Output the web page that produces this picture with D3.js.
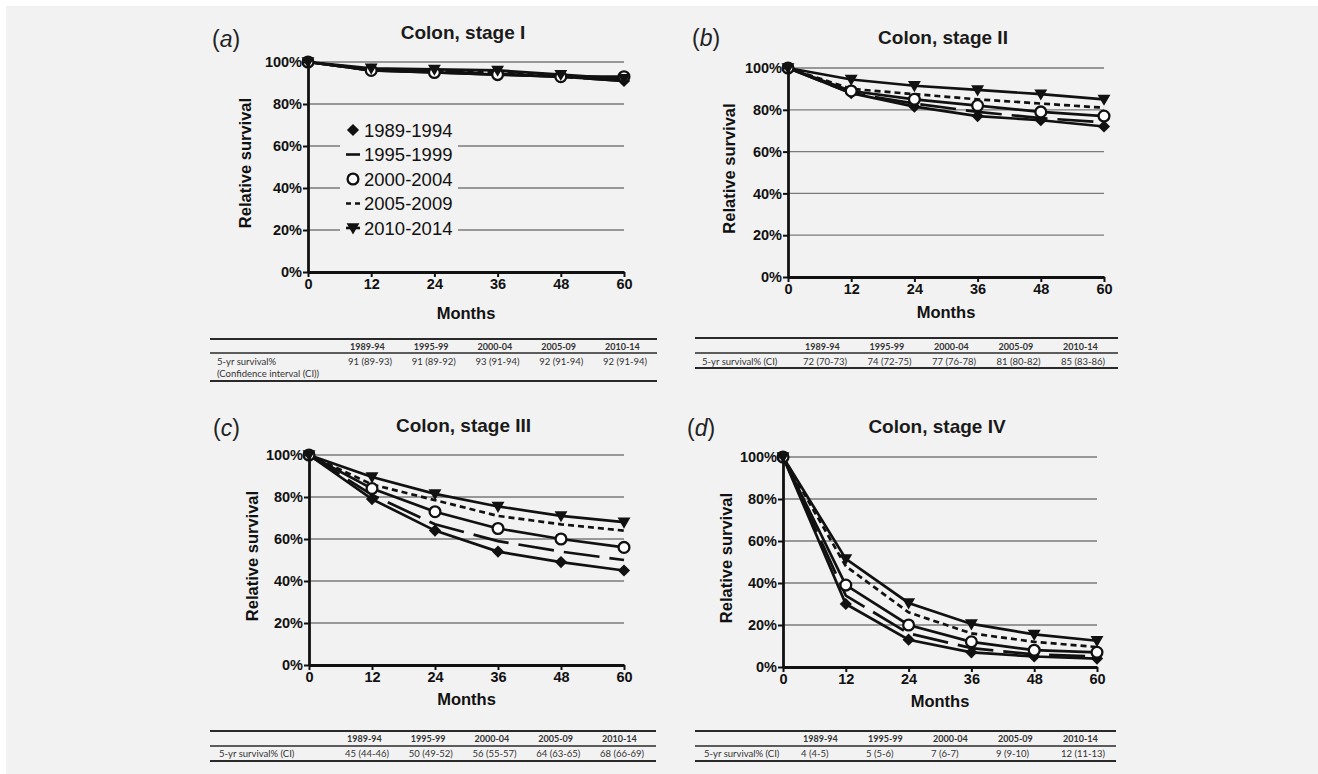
<!DOCTYPE html>
<html>
<head>
<meta charset="utf-8">
<script src="https://cdn.jsdelivr.net/npm/d3@7"></script>
<style>
  body { margin: 0; background: #fff; }
  text { font-family: "Liberation Sans", Arial, sans-serif; }
  .tbl text { font-family: Lato, "Open Sans", sans-serif; fill: #333; }
</style>
</head>
<body>
<div class="svg-content"></div>
<script>
// data
const months = [0, 12, 24, 36, 48, 60];
const yTicks = [0, 20, 40, 60, 80, 100];
const periods = ["1989-1994", "1995-1999", "2000-2004", "2005-2009", "2010-2014"];
const tableHeads = ["1989-94", "1995-99", "2000-04", "2005-09", "2010-14"];

const stageI = [
  [100, 96, 95, 94, 93, 91],
  [100, 96, 95.5, 94.5, 93, 91],
  [100, 96, 95, 94, 93, 93],
  [100, 96.5, 96, 95, 93.5, 92],
  [100, 97, 96.5, 96, 94, 92]
];
const stageII = [
  [100, 88, 81.5, 77, 75, 72],
  [100, 88, 83, 79, 76, 74],
  [100, 89, 85, 82, 79, 77],
  [100, 90, 87.5, 85, 83, 81],
  [100, 94.5, 91.5, 89.5, 87.5, 85]
];
const stageIII = [
  [100, 79, 64, 54, 49, 45],
  [100, 81, 67, 59, 54, 50],
  [100, 84, 73, 65, 60, 56],
  [100, 86, 78.5, 71, 67, 64],
  [100, 89.5, 81.5, 75.5, 71, 68]
];
const stageIV = [
  [100, 30, 13, 7, 5, 4],
  [100, 34, 16, 9, 6, 5],
  [100, 39, 20, 12, 8, 7],
  [100, 48, 26, 16, 12, 9.5],
  [100, 51.5, 30.5, 20.5, 15.5, 12.5]
];

const tableI = ["91 (89-93)", "91 (89-92)", "93 (91-94)", "92 (91-94)", "92 (91-94)"];
const tableII = ["72 (70-73)", "74 (72-75)", "77 (76-78)", "81 (80-82)", "85 (83-86)"];
const tableIII = ["45 (44-46)", "50 (49-52)", "56 (55-57)", "64 (63-65)", "68 (66-69)"];
const tableIV = ["4 (4-5)", "5 (5-6)", "7 (6-7)", "9 (9-10)", "12 (11-13)"];

// layout
const panels = [
  { tag: "a", title: "Colon, stage I", data: stageI, x0: 308, x1: 624, yTop: 62, yBot: 272,
    tagY: 47, titleY: 39, monthsY: 319, ylabX: 251,
    table: { rows: tableI, left: 210, right: 657, cols: [350, 605], top: 339, mid: 353, bot: 381,
             headY: 349.5, rowY: 364.5, labX: 217, label: ["5-yr survival%", "(Confidence interval (CI))"] } },
  { tag: "b", title: "Colon, stage II", data: stageII, x0: 788, x1: 1104, yTop: 68, yBot: 277,
    tagY: 46, titleY: 44, monthsY: 318, ylabX: 735,
    table: { rows: tableII, left: 695, right: 1118, cols: [805, 1063], top: 338, mid: 353, bot: 368,
             headY: 350, rowY: 365, labX: 702, label: ["5-yr survival% (CI)"] } },
  { tag: "c", title: "Colon, stage III", data: stageIII, x0: 309, x1: 624, yTop: 455, yBot: 665,
    tagY: 436, titleY: 432, monthsY: 705, ylabX: 258,
    table: { rows: tableIII, left: 210, right: 656, cols: [347, 602], top: 731, mid: 746, bot: 761,
             headY: 742, rowY: 757, labX: 219, label: ["5-yr survival% (CI)"] } },
  { tag: "d", title: "Colon, stage IV", data: stageIV, x0: 783, x1: 1097, yTop: 457, yBot: 667,
    tagY: 436, titleY: 433, monthsY: 707, ylabX: 732,
    table: { rows: tableIV, left: 695, right: 1116, cols: [803, 1063], top: 731, mid: 746, bot: 761,
             headY: 742, rowY: 757, labX: 704, label: ["5-yr survival% (CI)"] } }
];

const dashes = [null, "36,10", null, "6,4", null];
const ink = "#111";

const svgWidth = 1318;
const svgHeight = 774;

let svg = d3.select(".svg-content")
            .append("svg")
            .attr("width", svgWidth)
            .attr("height", svgHeight);

svg.append("rect")
   .attr("x", 6).attr("y", 6)
   .attr("width", svgWidth - 6).attr("height", svgHeight - 6)
   .attr("fill", "#f2f2f2");

const diamond = d3.symbol(d3.symbolDiamond2, 95)();
const triangle = d3.symbol(d3.symbolTriangle, 72)();

function marker(g, type, x, y) {
  if (type === 0) {
    g.append("path").attr("d", diamond).attr("fill", ink)
     .attr("transform", "translate(" + x + "," + y + ")");
  } else if (type === 2) {
    g.append("circle").attr("cx", x).attr("cy", y).attr("r", 5.4)
     .attr("fill", "#fff").attr("stroke", ink).attr("stroke-width", 2.3);
  } else if (type === 4) {
    g.append("path").attr("d", triangle).attr("fill", ink)
     .attr("transform", "translate(" + x + "," + (y - 1) + ") rotate(180)");
  }
}

panels.forEach(p => {
  const g = svg.append("g");

  const xScale = d3.scaleLinear().domain([0, 60]).range([p.x0, p.x1]);
  const yScale = d3.scaleLinear().domain([0, 100]).range([p.yBot, p.yTop]);
  const mid = (p.x0 + p.x1) / 2;

  // gridlines
  g.selectAll(".grid")
   .data(yTicks.filter(d => d > 0))
   .enter()
   .append("line")
   .attr("x1", p.x0).attr("x2", p.x1)
   .attr("y1", d => yScale(d)).attr("y2", d => yScale(d))
   .attr("stroke", "#7a7a7a")
   .attr("stroke-width", 1.3);

  // legend only in panel a
  if (p.tag === "a") {
    const lg = g.append("g");
    lg.append("rect")
      .attr("x", 340).attr("y", 116).attr("width", 118).attr("height", 124)
      .attr("fill", "#f2f2f2");
    const ly = d3.scalePoint().domain(periods).range([130, 228]);
    periods.forEach((name, i) => {
      const cy = ly(name);
      if (i === 0 || i === 2) {
        marker(lg, i, 353, cy);
      } else {
        lg.append("line")
          .attr("x1", 346).attr("x2", 360).attr("y1", cy).attr("y2", cy)
          .attr("stroke", ink).attr("stroke-width", 2.6)
          .attr("stroke-dasharray", i === 3 ? "5,4" : null);
        if (i === 4) marker(lg, 4, 353, cy);
      }
      lg.append("text")
        .attr("x", 364).attr("y", cy + 6.5)
        .attr("font-size", 18.5)
        .attr("fill", ink)
        .text(name);
    });
  }

  const line = d3.line()
                 .x((d, i) => xScale(months[i]))
                 .y(d => yScale(d));

  p.data.forEach((series, i) => {
    g.append("path")
     .attr("d", line(series))
     .attr("fill", "none")
     .attr("stroke", ink)
     .attr("stroke-width", 2.7)
     .attr("stroke-dasharray", dashes[i]);
  });

  p.data.forEach((series, i) => {
    series.forEach((v, j) => marker(g, i, xScale(months[j]), yScale(v)));
  });

  // axes
  const xAxis = d3.axisBottom(xScale).tickValues(months).tickSize(5).tickSizeOuter(0).tickPadding(2);
  const yAxis = d3.axisLeft(yScale).tickValues(yTicks).tickSize(5).tickSizeOuter(0).tickPadding(1)
                  .tickFormat(d => d + "%");

  const ax = g.append("g")
              .attr("transform", "translate(0," + p.yBot + ")")
              .call(xAxis);
  const ay = g.append("g")
              .attr("transform", "translate(" + p.x0 + ",0)")
              .call(yAxis);

  [ax, ay].forEach(a => {
    a.select(".domain").attr("stroke", ink).attr("stroke-width", 2.8);
    a.selectAll(".tick line").attr("stroke", ink).attr("stroke-width", 2);
    a.selectAll(".tick text")
     .attr("fill", ink)
     .attr("font-size", 14.5)
     .attr("font-weight", "bold")
     .attr("font-family", "'Liberation Sans', Arial, sans-serif");
  });

  // labels
  g.append("text")
   .attr("x", mid - 3).attr("y", p.titleY)
   .attr("text-anchor", "middle")
   .attr("font-size", 19)
   .attr("font-weight", "bold")
   .attr("fill", "#1a1a1a")
   .text(p.title);

  const tag = g.append("text")
               .attr("x", p.x0 - 96).attr("y", p.tagY)
               .attr("font-size", 23)
               .attr("fill", "#222");
  tag.append("tspan").text("(");
  tag.append("tspan").attr("font-style", "italic").text(p.tag);
  tag.append("tspan").text(")");

  g.append("text")
   .attr("x", mid).attr("y", p.monthsY)
   .attr("text-anchor", "middle")
   .attr("font-size", 16.5)
   .attr("font-weight", "bold")
   .attr("fill", ink)
   .text("Months");

  g.append("text")
   .attr("transform", "translate(" + p.ylabX + "," + ((p.yTop + p.yBot) / 2 - 4) + ") rotate(-90)")
   .attr("text-anchor", "middle")
   .attr("font-size", 16.5)
   .attr("font-weight", "bold")
   .attr("fill", ink)
   .text("Relative survival");

  // survival table under the panel
  const t = p.table;
  const tg = g.append("g").attr("class", "tbl");
  const colScale = d3.scalePoint().domain(tableHeads).range(t.cols);

  [[t.top, 2], [t.mid, 1.6], [t.bot, 2]].forEach(([yy, w]) => {
    tg.append("line")
      .attr("x1", t.left).attr("x2", t.right)
      .attr("y1", yy).attr("y2", yy)
      .attr("stroke", "#2a2a2a").attr("stroke-width", w);
  });

  tg.selectAll(".head")
    .data(tableHeads)
    .enter()
    .append("text")
    .attr("x", d => colScale(d))
    .attr("y", t.headY)
    .attr("font-size", 9)
    .attr("font-weight", "bold")
    .text(d => d);

  tg.selectAll(".val")
    .data(t.rows)
    .enter()
    .append("text")
    .attr("x", (d, i) => colScale(tableHeads[i]) - 2)
    .attr("y", t.rowY)
    .attr("font-size", 9.5)
    .text(d => d);

  t.label.forEach((s, i) => {
    tg.append("text")
      .attr("x", t.labX)
      .attr("y", t.rowY + i * 12)
      .attr("font-size", 9.5)
      .text(s);
  });
});
</script>
</body>
</html>
